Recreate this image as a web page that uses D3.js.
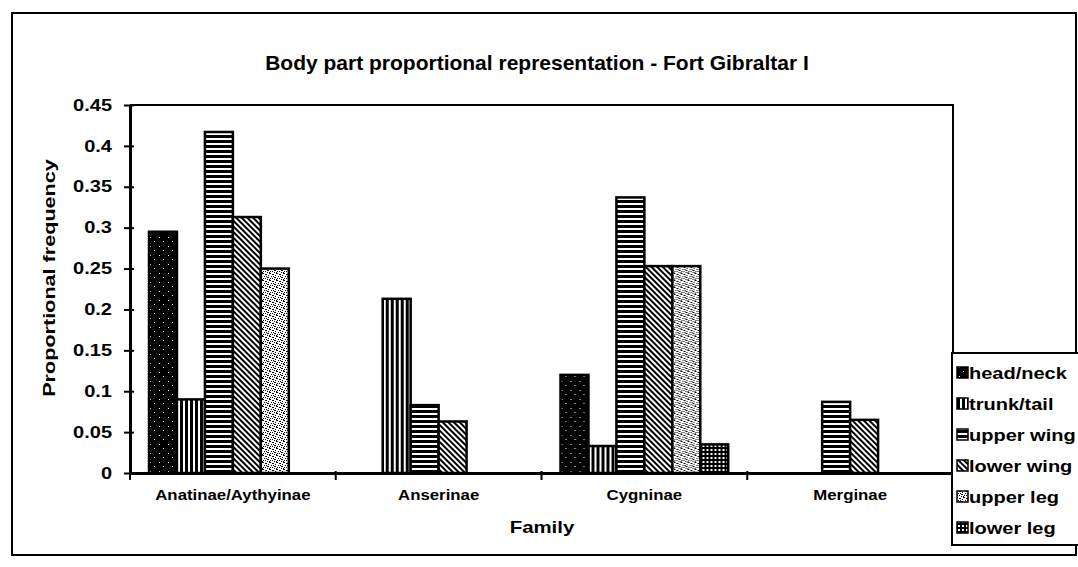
<!DOCTYPE html>
<html>
<head>
<meta charset="utf-8">
<script src="https://cdn.jsdelivr.net/npm/d3@7"></script>
<style>
  body { margin: 0; background: #fff; }
  text { font-family: "Liberation Sans", Arial, sans-serif; font-weight: bold; fill: #000; }
</style>
</head>
<body>
<div id="chart"></div>
<script>
// values
var families = ["Anatinae/Aythyinae", "Anserinae", "Cygninae", "Merginae"];
var parts = ["head/neck", "trunk/tail", "upper wing", "lower wing", "upper leg", "lower leg"];
var headNeck  = [0.295, 0,     0.12,  0];
var trunkTail = [0.09,  0.213, 0.033, 0];
var upperWing = [0.417, 0.083, 0.337, 0.087];
var lowerWing = [0.313, 0.063, 0.253, 0.065];
var upperLeg  = [0.25,  0,     0.253, 0];
var lowerLeg  = [0,     0,     0.035, 0];
var yTicks = [0, 0.05, 0.1, 0.15, 0.2, 0.25, 0.3, 0.35, 0.4, 0.45];
var yTickLabels = ["0", "0.05", "0.1", "0.15", "0.2", "0.25", "0.3", "0.35", "0.4", "0.45"];

var series = [headNeck, trunkTail, upperWing, lowerWing, upperLeg, lowerLeg];

var width = 1078, height = 567;
var plot = { left: 130, right: 953, top: 105, bottom: 473 };

var svg = d3.select("#chart").append("svg")
    .attr("width", width)
    .attr("height", height);

// stretch text sideways, the scan has wide letters
function stretch(sel, k) {
  sel.each(function() {
    var w = this.getComputedTextLength();
    d3.select(this).attr("textLength", w * k).attr("lengthAdjust", "spacingAndGlyphs");
  });
}

// fill patterns, one per body part
var defs = svg.append("defs");
function pat(id, w, h) {
  return defs.append("pattern").attr("id", id)
    .attr("patternUnits", "userSpaceOnUse")
    .attr("width", w).attr("height", h);
}
var p0 = pat("p0", 9, 9);
p0.append("rect").attr("width", 9).attr("height", 9).attr("fill", "#000");
p0.append("rect").attr("x", 2).attr("y", 3).attr("width", 1).attr("height", 1).attr("fill", "#fff");
p0.append("rect").attr("x", 6).attr("y", 7).attr("width", 1).attr("height", 1).attr("fill", "#fff");

var p1 = pat("p1", 5, 5);
p1.append("rect").attr("width", 5).attr("height", 5).attr("fill", "#000");
p1.append("rect").attr("x", 3).attr("width", 2).attr("height", 5).attr("fill", "#fff");

var p2 = pat("p2", 5, 5);
p2.append("rect").attr("width", 5).attr("height", 5).attr("fill", "#000");
p2.append("rect").attr("y", 3).attr("width", 5).attr("height", 2).attr("fill", "#fff");

var p3 = pat("p3", 4, 4).attr("patternTransform", "rotate(-45)");
p3.append("rect").attr("width", 4).attr("height", 4).attr("fill", "#fff");
p3.append("rect").attr("width", 2).attr("height", 4).attr("fill", "#000");

var p4 = pat("p4", 7, 7);
p4.append("rect").attr("width", 7).attr("height", 7).attr("fill", "#fff");
[[0, 0], [3, 1], [1, 3], [4, 4], [5, 2], [2, 5], [6, 6], [6, 0], [0, 5], [4, 6], [2, 1], [5, 4], [3, 3]].forEach(function(d) {
  p4.append("rect").attr("x", d[0]).attr("y", d[1]).attr("width", 1).attr("height", 1).attr("fill", "#000");
});

var p5 = pat("p5", 4, 4);
p5.append("rect").attr("width", 4).attr("height", 4).attr("fill", "#000");
p5.append("rect").attr("x", 1).attr("y", 1).attr("width", 2).attr("height", 2).attr("fill", "#fff");

// outer border
svg.append("rect")
   .attr("x", 12).attr("y", 13)
   .attr("width", 1064).attr("height", 542)
   .attr("fill", "none").attr("stroke", "#000").attr("stroke-width", 2);

var x0 = d3.scaleBand().domain(families).range([plot.left, plot.right]);
var x1 = d3.scaleBand().domain(parts).range([0, x0.bandwidth()]).paddingOuter(0.68);
var y = d3.scaleLinear().domain([0, 0.45]).range([plot.bottom, plot.top]);

// plot area frame (top + right)
svg.append("path")
   .attr("d", "M" + plot.left + "," + plot.top + "H" + plot.right + "V" + plot.bottom)
   .attr("fill", "none").attr("stroke", "#000").attr("stroke-width", 2);

// bars
var groups = svg.selectAll(".grp")
   .data(families)
   .enter().append("g")
   .attr("class", "grp")
   .attr("transform", function(d) { return "translate(" + x0(d) + ",0)"; });

groups.selectAll(".bar")
   .data(function(f, fi) {
     return parts.map(function(p, pi) { return { part: p, idx: pi, value: series[pi][fi] }; })
                 .filter(function(d) { return d.value > 0; });
   })
   .enter().append("rect")
   .attr("class", "bar")
   .attr("x", function(d) { return x1(d.part); })
   .attr("y", function(d) { return y(d.value); })
   .attr("width", x1.bandwidth())
   .attr("height", function(d) { return plot.bottom - y(d.value); })
   .attr("fill", function(d) { return "url(#p" + d.idx + ")"; })
   .attr("stroke", "#000").attr("stroke-width", 2.5);

// y axis
var yAxis = svg.append("g")
   .attr("transform", "translate(" + plot.left + ",0)")
   .call(d3.axisLeft(y).tickValues(yTicks)
          .tickFormat(function(d, i) { return yTickLabels[i]; })
          .tickSizeOuter(0).tickPadding(12));
yAxis.select(".domain").attr("stroke-width", 3);
yAxis.selectAll(".tick line").attr("x1", 4).attr("x2", -6).attr("stroke-width", 2);
yAxis.selectAll(".tick text").style("font-size", "16px").style("font-family", null);
stretch(yAxis.selectAll(".tick text"), 1.25);

// x axis
var xAxis = svg.append("g")
   .attr("transform", "translate(0," + plot.bottom + ")")
   .call(d3.axisBottom(x0).tickSize(0).tickPadding(17));
xAxis.select(".domain").attr("stroke-width", 3);
xAxis.selectAll(".tick text").style("font-size", "14px").style("font-family", null);
stretch(xAxis.selectAll(".tick text"), 1.2);

var bounds = families.map(function(f) { return x0(f); }).concat([plot.right]);
xAxis.selectAll(".cat-tick")
   .data(bounds)
   .enter().append("line")
   .attr("x1", function(d) { return d; }).attr("x2", function(d) { return d; })
   .attr("y1", -2).attr("y2", 7)
   .attr("stroke", "#000").attr("stroke-width", 2);

// titles
var title = svg.append("text")
   .attr("x", 537).attr("y", 70)
   .attr("text-anchor", "middle")
   .style("font-size", "21px")
   .text("Body part proportional representation - Fort Gibraltar I");

var xTitle = svg.append("text")
   .attr("x", 542).attr("y", 533)
   .attr("text-anchor", "middle")
   .style("font-size", "17px")
   .text("Family");
stretch(xTitle, 1.2);

var yTitle = svg.append("text")
   .attr("transform", "translate(55,278) rotate(-90)")
   .attr("text-anchor", "middle")
   .style("font-size", "16px")
   .text("Proportional frequency");
stretch(yTitle, 1.35);

// legend
var legend = svg.append("g");
legend.append("rect")
   .attr("x", 952).attr("y", 353)
   .attr("width", 130).attr("height", 192)
   .attr("fill", "#fff").attr("stroke", "#000").attr("stroke-width", 2);

var items = legend.selectAll(".item")
   .data(parts)
   .enter().append("g")
   .attr("class", "item")
   .attr("transform", function(d, i) { return "translate(957," + (373 + i * 31) + ")"; });

items.append("rect")
   .attr("x", 0).attr("y", -6)
   .attr("width", 11).attr("height", 11)
   .attr("fill", function(d, i) { return "url(#p" + i + ")"; })
   .attr("stroke", "#000").attr("stroke-width", 1.5);

var itemText = items.append("text")
   .attr("x", 12).attr("y", 6)
   .style("font-size", "16px")
   .text(function(d) { return d; });
stretch(itemText, 1.25);
</script>
</body>
</html>
